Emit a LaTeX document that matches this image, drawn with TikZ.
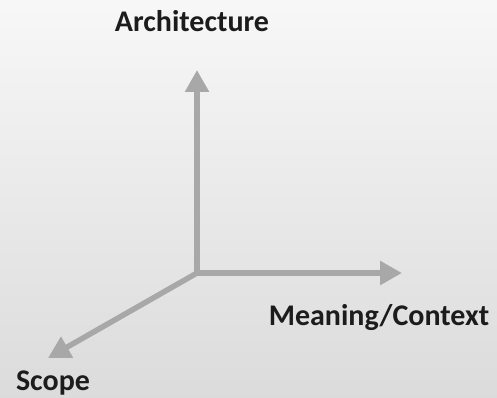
\documentclass[tikz,border=0pt]{standalone}
\usepackage{fontspec}
\setmainfont{Carlito}
\usetikzlibrary{arrows.meta}
\definecolor{axisgray}{HTML}{A8A8A8}
\definecolor{txt}{HTML}{1C1C1C}
\begin{document}
\begin{tikzpicture}[x=1pt,y=-1pt,
  axis/.style={draw=axisgray,line width=5.5pt,-{Triangle[length=22pt,width=23pt]}},
  lbl/.style={text=txt,font=\bfseries\fontsize{30}{36}\selectfont,inner sep=0pt,anchor=base}]
\useasboundingbox (0,0) rectangle (497,398);
\shade[shading angle=225,top color=white!97!black,bottom color=white!86!black] (0,0) rectangle (497,398);
\coordinate (o) at (197,273);
\coordinate (up) at (197,70);
\coordinate (rt) at (402,273);
\coordinate (dl) at (48,358);
\draw[axis] (o) -- (up);
\draw[axis] (o) -- (rt);
\draw[axis] (o) -- (dl);
\node[lbl] (arch) at (192,32) {Architecture};
\node[lbl] (mean) at (379,325) {Meaning/Context};
\node[lbl] (scope) at (53,390) {Scope};
\end{tikzpicture}
\end{document}
